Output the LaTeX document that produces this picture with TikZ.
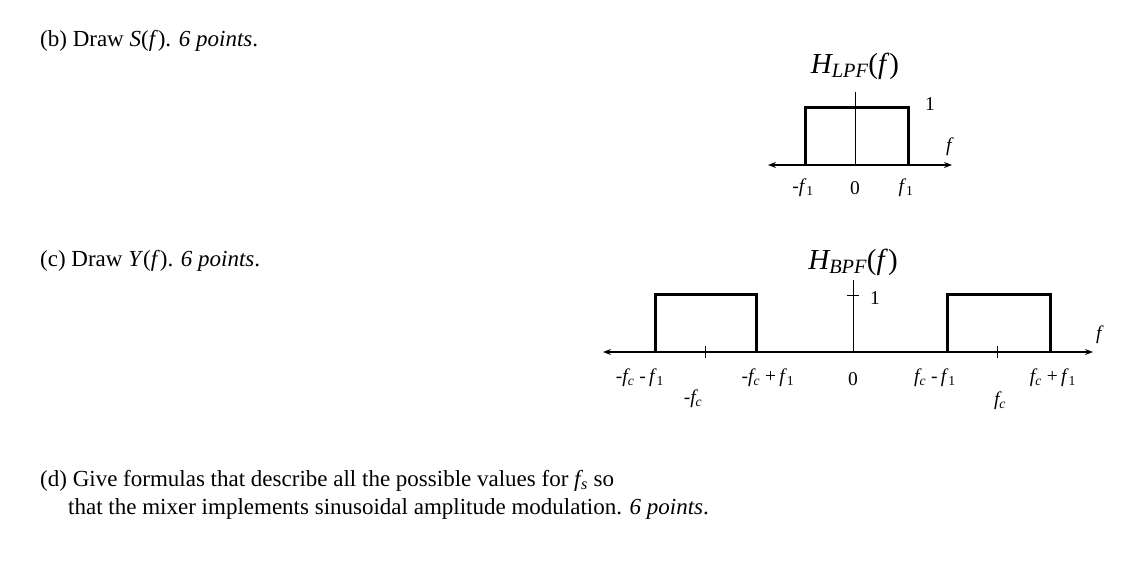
\documentclass[tikz,border=0pt]{standalone}
\usepackage{fontspec}
\setmainfont{Liberation Serif}
\usetikzlibrary{arrows.meta}
\begin{document}
\begin{tikzpicture}[x=1pt,y=-1pt,
  txt/.style={font=\fontsize{23}{26}\selectfont,inner sep=0pt},
  lbl/.style={font=\fontsize{19.5}{22}\selectfont,inner sep=0pt},
  ttl/.style={font=\fontsize{29}{32}\selectfont,inner sep=0pt},
  ax/.style={line width=1.2pt,{Stealth[length=8pt,width=6pt]}-{Stealth[length=8pt,width=6pt]}},
  box/.style={line width=3pt},
  thin/.style={line width=1pt}]
\useasboundingbox (0,0) rectangle (1134,576);
\node[txt,anchor=base west] (b) at (40,46) {(b) Draw \textit{S}(\textit{f}). \textit{6 points}.};
\node[txt,anchor=base west] (c) at (40,266) {(c) Draw \textit{Y}(\textit{f}). \textit{6 points}.};
\node[txt,anchor=base west] (d1) at (40,486) {(d) Give formulas that describe all the possible values for \textit{f\kern0.5pt}\textsubscript{\textit{s}} so};
\node[txt,anchor=base west] (d2) at (68,514) {that the mixer implements sinusoidal amplitude modulation. \textit{6 points}.};
% LPF
\draw[ax] (768,165) -- (952,165);
\draw[thin] (855,92) -- (855,165);
\draw[box] (805,165) -- (805,107) -- (908,107) -- (908,165);
\node[ttl] (lt) at (855,66) {\textit{H\textsubscript{LPF}}(\textit{f})};
\node[lbl] (l1) at (930,104) {1};
\node[lbl] (lf) at (950,147) {\textit{f}};
\node[lbl] (lm) at (803,188) {-\textit{f}\textsubscript{1}};
\node[lbl] (l0) at (855,188) {0};
\node[lbl] (lp) at (906,188) {\textit{f}\textsubscript{1}};
% BPF
\draw[ax] (603,352) -- (1093,352);
\draw[thin] (853,280) -- (853,352);
\draw[thin] (847,295) -- (859,295);
\draw[thin] (705,346) -- (705,358);
\draw[thin] (997,346) -- (997,358);
\draw[box] (655,352) -- (655,294) -- (756,294) -- (756,352);
\draw[box] (947,352) -- (947,294) -- (1050,294) -- (1050,352);
\node[ttl] (bt) at (853,262) {\textit{H\textsubscript{BPF}}(\textit{f})};
\node[lbl] (b1) at (875,298) {1};
\node[lbl] (bf) at (1100,335) {\textit{f}};
\node[lbl] (x1) at (640,378) {-\textit{f\textsubscript{c}} -\,\textit{f}\textsubscript{1}};
\node[lbl] (x2) at (768,378) {-\textit{f\textsubscript{c}} +\,\textit{f}\textsubscript{1}};
\node[lbl] (x3) at (853,379) {0};
\node[lbl] (x4) at (935,378) {\textit{f\textsubscript{c}} -\,\textit{f}\textsubscript{1}};
\node[lbl] (x5) at (1053,378) {\textit{f\textsubscript{c}} +\,\textit{f}\textsubscript{1}};
\node[lbl] (x6) at (693,399) {-\textit{f\textsubscript{c}}};
\node[lbl] (x7) at (1000,401) {\textit{f\textsubscript{c}}};
\end{tikzpicture}
\end{document}
